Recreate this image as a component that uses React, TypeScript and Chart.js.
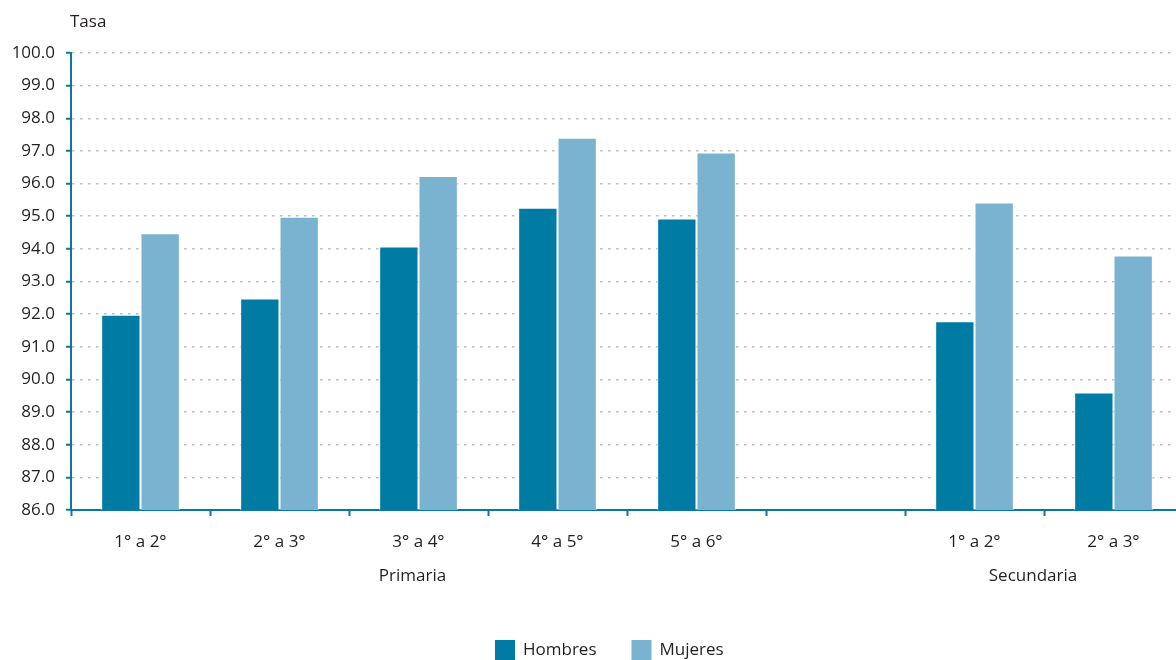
import React, { useEffect, useRef } from "react";
import { Chart, registerables } from "chart.js";

Chart.register(...registerables);

const categories = ["1° a 2°", "2° a 3°", "3° a 4°", "4° a 5°", "5° a 6°", "", "1° a 2°", "2° a 3°"];
const hombres = [91.98, 92.48, 94.07, 95.26, 94.93, null, 91.78, 89.6];
const mujeres = [94.48, 94.98, 96.23, 97.4, 96.95, null, 95.42, 93.8];
const seriesNames = ["Hombres", "Mujeres"];
const groupLabels = ["Primaria", "Secundaria"];
const yTitle = "Tasa";

const DARK = "#007CA4";
const LIGHT = "#7AB3D0";
const AXIS = "#0B76A0";
const TEXT = "#231F20";
const FONT = "'Open Sans', sans-serif";

export default function App() {
  const ref = useRef<HTMLCanvasElement | null>(null);
  useEffect(() => {
    if (!ref.current) return;
    const extras = {
      id: "extras",
      afterDraw(chart: any) {
        const ctx = chart.ctx;
        const area = chart.chartArea;
        const x = chart.scales.x;
        ctx.save();
        ctx.fillStyle = TEXT;
        ctx.font = `17px ${FONT}`;
        ctx.textBaseline = "middle";
        ctx.textAlign = "left";
        ctx.fillText(yTitle, area.left - 1, 22);
        ctx.textAlign = "center";
        const pX = x.getPixelForValue(2) - 6;
        const sX = (x.getPixelForValue(6) + x.getPixelForValue(7)) / 2 - 11;
        ctx.fillText(groupLabels[0], pX, 576);
        ctx.fillText(groupLabels[1], sX, 576);
        // legend
        const colors = [DARK, LIGHT];
        let lx = area.left + 424;
        const ly = 650;
        ctx.textAlign = "left";
        seriesNames.forEach((n, i) => {
          ctx.fillStyle = colors[i];
          ctx.fillRect(lx, ly - 10, 20, 20);
          ctx.fillStyle = TEXT;
          ctx.fillText(n, lx + 28, ly);
          lx += 28 + ctx.measureText(n).width + 35;
        });
        ctx.restore();
      },
    };
    const chart = new Chart(ref.current, {
      type: "bar",
      data: {
        labels: categories,
        datasets: [
          { label: seriesNames[0], data: hombres, backgroundColor: DARK, borderColor: "rgba(255,255,255,0.7)", borderWidth: 1, categoryPercentage: 0.566, barPercentage: 1 },
          { label: seriesNames[1], data: mujeres, backgroundColor: LIGHT, borderColor: "rgba(255,255,255,0.7)", borderWidth: 1, categoryPercentage: 0.566, barPercentage: 1 },
        ],
      },
      options: {
        responsive: false,
        animation: false,
        layout: { padding: { top: 53, right: 7, left: 0, bottom: 0 } },
        plugins: { legend: { display: false }, tooltip: { enabled: false } },
        scales: {
          x: {
            afterFit: (s: any) => { s.height = 150; },
            grid: { display: true, drawOnChartArea: false, offset: true, tickLength: 6, tickColor: AXIS, tickWidth: 2 },
            border: { color: AXIS, width: 2 },
            ticks: { color: TEXT, font: { family: FONT, size: 17 }, padding: 16, maxRotation: 0 },
          },
          y: {
            min: 86,
            max: 100,
            afterFit: (s: any) => { s.width = 71; },
            grid: { color: "#BDBDBD", lineWidth: 1.5, tickLength: 5, tickColor: AXIS, tickWidth: 2, tickBorderDash: [] },
            border: { color: AXIS, width: 2, dash: [2.5, 5.5] },
            ticks: { stepSize: 1, color: TEXT, font: { family: FONT, size: 17 }, padding: 11, callback: (v: any) => Number(v).toFixed(1) },
          },
        },
      },
      plugins: [extras],
    } as any);
    return () => chart.destroy();
  }, []);
  return (
    <div style={{ position: "fixed", left: 0, top: 0, width: 1176, height: 660, overflow: "hidden", background: "#fff" }}>
      <canvas ref={ref} width={1190} height={660} style={{ display: "block" }} />
    </div>
  );
}
